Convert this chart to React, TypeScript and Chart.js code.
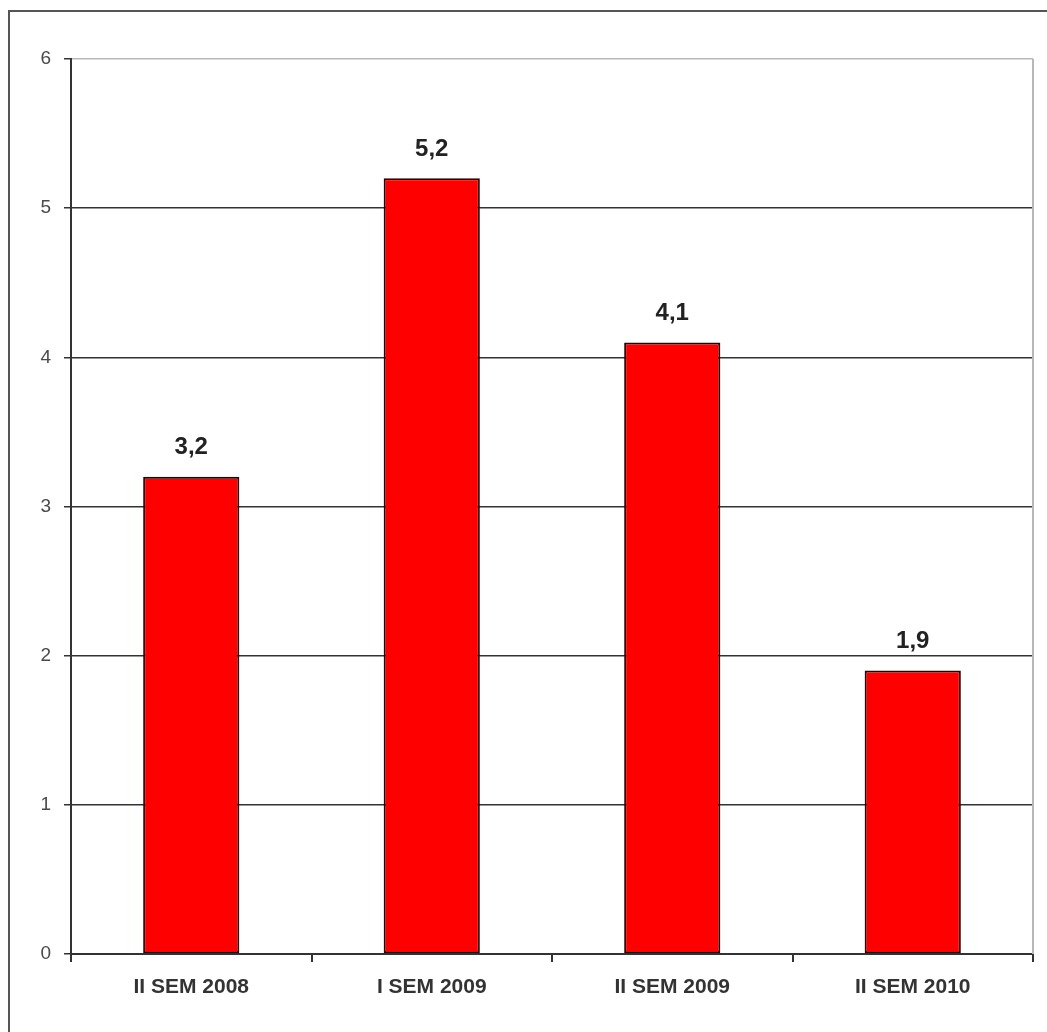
import React, { useEffect, useRef } from 'react'
import { Chart, registerables } from 'chart.js'

Chart.register(...registerables)

const categories = ['II SEM 2008', 'I SEM 2009', 'II SEM 2009', 'II SEM 2010']
const values = [3.2, 5.2, 4.1, 1.9]
const yTicks = [0, 1, 2, 3, 4, 5, 6]

const FONT = 'Arial, "Liberation Sans", sans-serif'

// value labels above each bar, decimal comma
const valueLabels = {
  id: 'valueLabels',
  afterDatasetsDraw(chart: any) {
    const ctx = chart.ctx
    const meta = chart.getDatasetMeta(0)
    ctx.save()
    ctx.font = `bold 24px ${FONT}`
    ctx.fillStyle = '#222'
    ctx.textAlign = 'center'
    ctx.textBaseline = 'middle'
    meta.data.forEach((bar: any, i: number) => {
      const txt = values[i].toFixed(1).replace('.', ',')
      ctx.fillText(txt, bar.x, bar.y - 29)
    })
    ctx.restore()
  }
}

// light grey frame on the right of the plot area
const plotFrame = {
  id: 'plotFrame',
  beforeDatasetsDraw(chart: any) {
    const { ctx, chartArea } = chart
    ctx.save()
    ctx.strokeStyle = '#b8b8b8'
    ctx.lineWidth = 2
    ctx.beginPath()
    ctx.moveTo(chartArea.right, chartArea.top)
    ctx.lineTo(chartArea.right, chartArea.bottom)
    ctx.stroke()
    ctx.restore()
  }
}

export default function App() {
  const canvasRef = useRef<HTMLCanvasElement>(null)

  useEffect(() => {
    if (!canvasRef.current) return
    const chart = new Chart(canvasRef.current, {
      type: 'bar',
      data: {
        labels: categories,
        datasets: [
          {
            data: values,
            backgroundColor: '#ff0000',
            borderColor: '#300000',
            borderWidth: 2,
            borderSkipped: false,
            categoryPercentage: 1,
            barPercentage: 0.4
          }
        ]
      },
      options: {
        animation: false,
        responsive: false,
        layout: { padding: { left: 11, right: 14, top: 47, bottom: 18 } },
        plugins: {
          legend: { display: false },
          tooltip: { enabled: false }
        },
        scales: {
          x: {
            afterFit: (scale: any) => { scale.height = 60 },
            grid: {
              offset: true,
              drawOnChartArea: false,
              tickColor: '#333',
              lineWidth: 2,
              tickLength: 8
            },
            border: { color: '#333', width: 2 },
            ticks: {
              color: '#333',
              padding: 13,
              font: { family: FONT, size: 21, weight: 'bold' }
            }
          },
          y: {
            min: yTicks[0],
            max: yTicks[yTicks.length - 1],
            afterFit: (scale: any) => { scale.width = 50 },
            afterBuildTicks: (scale: any) => {
              scale.ticks = yTicks.map((v) => ({ value: v }))
            },
            grid: {
              color: (c: any) => (c.tick && c.tick.value === 6 ? '#b8b8b8' : '#333'),
              lineWidth: 1.5,
              tickColor: '#333',
              tickLength: 7
            },
            border: { color: '#333', width: 2 },
            ticks: {
              color: '#4a4a4a',
              padding: 13,
              font: { family: FONT, size: 19 }
            }
          }
        }
      },
      plugins: [plotFrame, valueLabels]
    } as any)
    return () => chart.destroy()
  }, [])

  return (
    <div
      style={{
        position: 'fixed',
        left: 8,
        top: 10,
        width: 1039,
        height: 1022,
        borderTop: '2px solid #555',
        borderLeft: '2px solid #555',
        boxSizing: 'border-box',
        background: '#fff',
        overflow: 'hidden'
      }}
    >
      <canvas ref={canvasRef} width={1037} height={1020} style={{ display: 'block' }} />
    </div>
  )
}
